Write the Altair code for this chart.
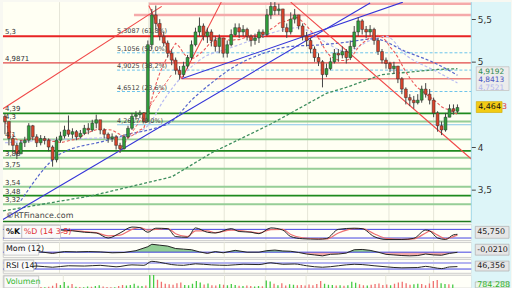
import altair as alt
import pandas as pd

# ---------------- data ----------------
CLOSE = [4.30, 4.10, 4.02, 3.92, 4.05, 4.08, 4.25, 4.12, 4.05, 4.10,
         4.08, 4.00, 3.85, 4.08, 4.13, 4.20, 4.15, 4.18, 4.12, 4.16,
         4.22, 4.20, 4.28, 4.32, 4.20, 4.15, 4.10, 4.12, 4.02, 3.98,
         4.12, 4.22, 4.36, 4.38, 4.40, 4.30, 5.20, 5.55, 5.45, 5.30,
         5.22, 5.10, 5.02, 4.90, 4.85, 4.95, 5.05, 5.20, 5.35, 5.42,
         5.30, 5.35, 5.25, 5.18, 5.28, 5.10, 5.20, 5.32, 5.40, 5.35,
         5.38, 5.30, 5.25, 5.28, 5.35, 5.32, 5.55, 5.65, 5.60, 5.62,
         5.40, 5.35, 5.50, 5.55, 5.42, 5.30, 5.25, 5.15, 5.05, 5.00,
         4.85, 4.92, 5.00, 5.10, 5.08, 5.12, 5.05, 5.18, 5.35, 5.48,
         5.38, 5.35, 5.38, 5.25, 5.12, 5.02, 4.98, 4.92, 4.95, 4.80,
         4.68, 4.58, 4.55, 4.52, 4.55, 4.68, 4.62, 4.55, 4.40, 4.25,
         4.20, 4.35, 4.45, 4.42, 4.464]
HIGH = [4.39, 4.22, 4.12, 4.05, 4.08, 4.12, 4.28, 4.26, 4.15, 4.14,
        4.13, 4.10, 4.02, 4.12, 4.18, 4.25, 4.37, 4.22, 4.20, 4.20,
        4.26, 4.28, 4.32, 4.38, 4.30, 4.22, 4.17, 4.16, 4.14, 4.05,
        4.15, 4.25, 4.40, 4.42, 4.43, 4.41, 5.25, 5.62, 5.66, 5.50,
        5.35, 5.25, 5.15, 5.05, 4.95, 5.00, 5.08, 5.25, 5.40, 5.52,
        5.45, 5.40, 5.38, 5.30, 5.32, 5.28, 5.25, 5.38, 5.45, 5.45,
        5.43, 5.40, 5.32, 5.33, 5.38, 5.38, 5.62, 5.70, 5.70, 5.68,
        5.62, 5.45, 5.58, 5.62, 5.55, 5.45, 5.35, 5.28, 5.18, 5.10,
        5.02, 4.98, 5.05, 5.15, 5.15, 5.18, 5.15, 5.25, 5.42, 5.52,
        5.50, 5.42, 5.43, 5.40, 5.28, 5.15, 5.05, 5.00, 5.00, 4.95,
        4.82, 4.70, 4.62, 4.60, 4.62, 4.72, 4.75, 4.68, 4.58, 4.42,
        4.30, 4.40, 4.50, 4.50, 4.50]
LOW = [4.15, 4.02, 3.95, 3.86, 3.92, 4.00, 4.05, 4.08, 4.00, 4.02,
       4.03, 3.95, 3.77, 3.82, 4.05, 4.10, 4.12, 4.10, 4.08, 4.10,
       4.14, 4.15, 4.18, 4.22, 4.15, 4.10, 4.05, 4.06, 3.97, 3.93,
       3.97, 4.10, 4.20, 4.32, 4.34, 4.28, 4.30, 5.15, 5.38, 5.25,
       5.18, 5.05, 4.96, 4.85, 4.79, 4.82, 4.92, 5.02, 5.18, 5.30,
       5.25, 5.22, 5.18, 5.12, 5.10, 5.05, 5.05, 5.18, 5.30, 5.28,
       5.30, 5.25, 5.18, 5.20, 5.22, 5.28, 5.30, 5.50, 5.55, 5.55,
       5.35, 5.28, 5.32, 5.45, 5.38, 5.25, 5.18, 5.10, 5.00, 4.95,
       4.70, 4.82, 4.90, 4.98, 5.00, 5.04, 4.98, 5.02, 5.15, 5.30,
       5.32, 5.28, 5.30, 5.20, 5.08, 4.98, 4.92, 4.88, 4.86, 4.75,
       4.62, 4.50, 4.48, 4.45, 4.50, 4.52, 4.58, 4.50, 4.35, 4.18,
       4.14, 4.18, 4.35, 4.38, 4.40]
FIRST_OPEN = 4.36
VOLUME = [620, 540, 480, 700, 520, 450, 760, 500, 420, 380,
          460, 610, 980, 720, 1150, 610, 880, 470, 420, 390,
          520, 480, 560, 690, 510, 430, 400, 380, 590, 720,
          650, 740, 920, 610, 560, 640, 3400, 2600, 1500, 1200,
          900, 820, 760, 980, 1100, 720, 680, 900, 1300, 1100,
          800, 950, 700, 640, 820, 760, 690, 880, 720, 610,
          580, 640, 590, 520, 560, 540, 1400, 1250, 900, 700,
          980, 640, 820, 760, 690, 720, 650, 800, 700, 880,
          1300, 900, 780, 720, 640, 700, 610, 690, 1200, 1050,
          820, 700, 650, 760, 880, 950, 720, 800, 680, 900,
          1100, 1200, 980, 760, 820, 900, 860, 700, 950, 1300,
          1450, 980, 860, 820, 784]

GREEN_MA_I = [-0.5, 22, 42, 52, 67, 81, 86, 95, 109, 114]
GREEN_MA_V = [3.25, 3.43, 3.65, 3.93, 4.27, 4.63, 4.70, 4.85, 4.91, 4.9192]
BLUE_MA_I = [4, 14, 25, 31, 37, 42, 47, 52, 58, 64, 72, 80, 86, 93, 101, 109, 114]
BLUE_MA_V = [3.37, 3.92, 4.07, 4.15, 4.21, 4.30, 4.55, 4.75, 4.95, 5.08, 5.18, 5.20, 5.23, 5.27, 5.12, 4.97, 4.8413]
LAV_MA_I = [0, 10, 20, 30, 36, 40, 45, 50, 56, 62, 68, 74, 80, 86, 92, 96, 101, 109, 114]
LAV_MA_V = [4.05, 4.08, 4.10, 4.12, 4.25, 4.55, 4.85, 5.05, 5.15, 5.25, 5.35, 5.40, 5.25, 5.12, 5.25, 5.30, 5.08, 4.88, 4.7521]

GREEN_LEVELS = [4.395, 4.30, 4.09, 3.955, 3.875, 3.745, 3.535, 3.43, 3.33]
GREEN_DARK = [True, False, False, True, False, False, False, True, False]
GREEN_LABELS = ["4,39", "4,3", "4,1", "", "3,88", "3,75", "3,54", "3,48", "3,32"]

RED_LEVEL_START = [36.25, 32.5, -0.5, -0.5, 44.5]
RED_LEVEL_P = [5.68, 5.55, 5.30, 4.9871, 4.80]
RED_LEVEL_COL = ["#F5AAAA", "#F5AAAA", "#E82424", "#E04848", "#E04848"]
RED_LEVEL_W = [2.5, 2.5, 2.0, 1.2, 1.0]
RED_LABELS = ["5,3", "4,9871"]
RED_LABEL_P = [5.30, 4.9871]

FIB_P = [5.3087, 5.1056, 4.9025, 4.6512, 4.2617]
FIB_T = ["5,3087 (61,8%)", "5,1056 (50,0%)", "4,9025 (38,2%)", "4,6512 (23,6%)", "4,2617 (0,0%)"]
FIB_START = 28.25

TREND_I1 = [-0.5, 44.5, -0.5, 72, 36.25, 44.5]
TREND_P1 = [3.15, 4.80, 4.45, 5.70, 5.66, 4.80]
TREND_I2 = [92, 100.25, 39.5, 117.5, 44.5, 54.5]
TREND_P2 = [5.69, 5.70, 5.65, 3.86, 4.80, 5.70]
TREND_COL = ["#3535D8", "#3535D8", "#F04848", "#F04848", "#F04848", "#F04848"]

GRID_I = [13.75, 36.25, 55.25, 65.75, 76.25, 96.75, 108]

K_I = [0, 3, 6, 9, 12, 14, 17, 20, 23, 26, 29, 32, 34, 36, 38, 41, 43, 46, 48, 51, 53, 57, 59, 62, 64,
       67, 70, 72, 75, 79, 81, 84, 88, 90, 93, 96, 100, 103, 106, 107, 109, 111, 113, 114]
K_V = [40, 25, 50, 30, 20, 75, 70, 60, 55, 20, 55, 96, 92, 60, 88, 85, 30, 25, 90, 60, 55, 85, 65, 60, 50,
       90, 75, 30, 15, 12, 16, 80, 88, 85, 30, 10, 10, 18, 75, 70, 20, 10, 42, 45.75]
D_V = [42, 30, 40, 38, 25, 55, 72, 65, 57, 35, 40, 80, 93, 75, 80, 86, 50, 30, 70, 70, 57, 75, 72, 62, 55,
       78, 80, 45, 22, 14, 14, 55, 85, 86, 50, 18, 10, 14, 55, 68, 40, 15, 30, 40]

MOM_I = [0, 3, 6, 9, 12, 15, 18, 21, 24, 27, 30, 33, 36, 37, 39, 41, 43, 45, 47, 49, 51, 53, 55, 58, 61,
         64, 66, 68, 70, 72, 74, 76, 78, 80, 82, 84, 86, 88, 90, 92, 94, 96, 98, 100, 102, 104, 106, 108,
         110, 112, 114]
MOM_V = [0.0, -0.1, 0.15, 0.05, -0.2, 0.1, 0.05, 0.1, 0.05, -0.1, -0.05, 0.25, 0.9, 1.3, 1.15, 1.0, 0.6,
         0.5, 0.4, 0.05, -0.2, 0.1, -0.1, 0.3, 0.0, 0.0, 0.25, 0.35, 0.2, 0.15, -0.05, -0.3, -0.45, -0.6,
         -0.35, -0.3, -0.15, 0.4, 0.45, 0.3, 0.0, -0.35, -0.45, -0.55, -0.6, -0.55, -0.3, -0.45, -0.5,
         -0.2, -0.021]

RSI_I = [0, 4, 8, 12, 16, 20, 24, 28, 32, 35, 37, 39, 42, 45, 48, 52, 56, 60, 64, 67, 70, 73, 76, 80, 84,
         88, 90, 93, 96, 100, 104, 106, 108, 110, 112, 114]
RSI_V = [48, 45, 50, 42, 52, 50, 55, 45, 58, 55, 82, 75, 60, 55, 65, 58, 55, 62, 60, 72, 62, 64, 52, 42, 52,
         62, 60, 52, 45, 38, 40, 48, 40, 33, 44, 46.356]

# ---------------- styling ----------------
FONT = "DejaVu Sans"
W = 472
H_MAIN, H_K, H_MOM, H_RSI, H_VOL = 222, 16, 15, 14, 13
XS = alt.Scale(domain=[-0.5, 117.5], nice=False, zero=False)
YS = alt.Scale(domain=[3.116, 5.70], nice=False, zero=False)
AX = alt.Axis(orient="right", values=[3.5, 4, 5, 5.5], format=".1~f",
              labelExpr="replace(datum.label, '.', ',')", tickSize=4, tickColor="#444",
              domain=False, grid=False, labelFontSize=9, labelColor="#333", labelPadding=2,
              labelFont=FONT, title=None, zindex=1)
IVORY = "#FFFFF3"
CYAN = "#DDF5F8"
GUP, RDN = "#2E9E3A", "#D9432B"


def xq(f):
    return alt.X(f"{f}:Q", scale=XS, axis=None)


def yp(f):
    return alt.Y(f"{f}:Q", scale=YS, axis=AX)


one = pd.DataFrame({"a": [0]})

n = len(CLOSE)
OPEN = [FIRST_OPEN] + CLOSE[:-1]
price = pd.DataFrame({"i": list(range(n)), "o": OPEN, "c": CLOSE, "h": HIGH, "l": LOW, "v": VOLUME})
grid = pd.DataFrame({"g": GRID_I})


def strip(h, extra):
    return alt.Chart(one).mark_rect(color=CYAN).encode(
        x=alt.value(W), x2=alt.value(512), y=alt.value(0), y2=alt.value(h + extra))


def gridlayer():
    return alt.Chart(grid).mark_rule(color="#E6E6D8", strokeWidth=1).encode(x=xq("g"))


# ---------------- main panel ----------------
glev = pd.DataFrame({"p": GREEN_LEVELS,
                     "col": ["#1E8A1E" if d else "#96CE96" for d in GREEN_DARK],
                     "w": [1.6 if d else 2.0 for d in GREEN_DARK],
                     "t": GREEN_LABELS})
green_rules = alt.Chart(glev).mark_rule().encode(
    y=yp("p"), color=alt.Color("col:N", scale=None), strokeWidth=alt.StrokeWidth("w:Q", scale=None))

rlev = pd.DataFrame({"i1": RED_LEVEL_START, "i2": [117.5] * len(RED_LEVEL_P), "p": RED_LEVEL_P,
                     "col": RED_LEVEL_COL, "w": RED_LEVEL_W})
red_rules = alt.Chart(rlev).mark_rule().encode(
    x=xq("i1"), x2="i2:Q", y=yp("p"), color=alt.Color("col:N", scale=None),
    strokeWidth=alt.StrokeWidth("w:Q", scale=None))

fib = pd.DataFrame({"i1": [FIB_START] * len(FIB_P), "i2": [117.5] * len(FIB_P), "p": FIB_P, "t": FIB_T})
fib_dash = alt.Chart(fib).transform_filter("datum.p < 5.2 && datum.p > 4.5").mark_rule(
    color="#6CC4EA", strokeWidth=1, strokeDash=[3, 2]).encode(x=xq("i1"), x2="i2:Q", y=yp("p"))
fib_zero = alt.Chart(fib).transform_filter("datum.p < 4.3").mark_rule(
    color="#86C6EA", strokeWidth=1.2).encode(x=xq("i1"), x2="i2:Q", y=yp("p"))
fib_text = alt.Chart(fib).mark_text(align="left", baseline="bottom", dy=-1, fontSize=6.5,
                                    color="#444", font=FONT).encode(x=xq("i1"), y=yp("p"), text="t:N")

ma_green = alt.Chart(pd.DataFrame({"i": GREEN_MA_I, "v": GREEN_MA_V})).mark_line(
    color="#3E8E5E", strokeWidth=1.3, strokeDash=[3, 2]).encode(x=xq("i"), y=yp("v"))
ma_blue = alt.Chart(pd.DataFrame({"i": BLUE_MA_I, "v": BLUE_MA_V})).mark_line(
    color="#5565CC", strokeWidth=1.2, strokeDash=[3, 2], interpolate="monotone").encode(x=xq("i"), y=yp("v"))
ma_lav = alt.Chart(pd.DataFrame({"i": LAV_MA_I, "v": LAV_MA_V})).mark_line(
    color="#B9BCF2", strokeWidth=1.2, strokeDash=[3, 2], interpolate="monotone").encode(x=xq("i"), y=yp("v"))
ma_red = alt.Chart(price).transform_window(
    ma="mean(c)", frame=[-7, 0], sort=[alt.SortField("i")]).mark_line(
    color="#EC5A5A", strokeWidth=1.1, strokeDash=[3, 2]).encode(x=xq("i"), y=yp("ma"))

trend = pd.DataFrame({"i1": TREND_I1, "p1": TREND_P1, "i2": TREND_I2, "p2": TREND_P2, "col": TREND_COL})
trend_rules = alt.Chart(trend).mark_rule(strokeWidth=1.1, clip=True).encode(
    x=xq("i1"), x2="i2:Q", y=yp("p1"), y2="p2:Q", color=alt.Color("col:N", scale=None))
fan = alt.Chart(pd.DataFrame({"i1": [28.75], "p1": [3.95], "i2": [42.0], "p2": [4.85]})).mark_rule(
    color="#F06060", strokeWidth=1, strokeDash=[3, 2]).encode(x=xq("i1"), x2="i2:Q", y=yp("p1"), y2="p2:Q")

updown = alt.condition("datum.c >= datum.o", alt.value(GUP), alt.value(RDN))
wicks = alt.Chart(price).mark_rule(color="#444", strokeWidth=1).encode(x=xq("i"), y=yp("l"), y2="h:Q")
bodies = alt.Chart(price).transform_calculate(x1="datum.i - 0.36", x2="datum.i + 0.36").mark_rect(
    stroke="#2A2A2A", strokeWidth=0.5).encode(x=xq("x1"), x2="x2:Q", y=yp("o"), y2="c:Q", color=updown)

left_lab = pd.DataFrame({"p": RED_LABEL_P + GREEN_LEVELS, "t": RED_LABELS + GREEN_LABELS})
left_text = alt.Chart(left_lab).mark_text(align="left", baseline="bottom", dy=-1, fontSize=7,
                                          color="#333", font=FONT).encode(
    x=alt.value(2), y=yp("p"), text="t:N")

bottom_rule = alt.Chart(one).mark_rule(color="#1E7A1E", strokeWidth=1.5).encode(
    x=alt.value(0), x2=alt.value(W), y=alt.value(H_MAIN - 1))
edge_rule = alt.Chart(one).mark_rule(color="#9ED6E8", strokeWidth=1).encode(
    x=alt.value(W), y=alt.value(0), y2=alt.value(H_MAIN))
watermark = alt.Chart(one).mark_text(align="left", baseline="bottom", fontSize=8, color="#444",
                                     font=FONT, text="©RTFinance.com").encode(
    x=alt.value(3), y=alt.value(H_MAIN - 2))

ma_box = alt.Chart(pd.DataFrame({"p1": [4.942], "p2": [4.663]})).mark_rect(
    fill="#ECECEC", stroke="#C4C4C4", strokeWidth=0.8).encode(
    x=alt.value(477), x2=alt.value(510), y=yp("p1"), y2="p2:Q")
ma_vals = pd.DataFrame({"p": [4.884, 4.791, 4.698], "t": ["4,9192", "4,8413", "4,7521"],
                        "col": ["#2E8A4E", "#4A55C0", "#B4B8EE"]})
ma_text = alt.Chart(ma_vals).mark_text(align="left", baseline="middle", fontSize=7.5, font=FONT).encode(
    x=alt.value(479), y=yp("p"), text="t:N", color=alt.Color("col:N", scale=None))
last_box = alt.Chart(pd.DataFrame({"p1": [4.533], "p2": [4.405]})).mark_rect(
    fill="#F2CB14", stroke="#D0A800", strokeWidth=0.6).encode(
    x=alt.value(477), x2=alt.value(503), y=yp("p1"), y2="p2:Q")
last_text = alt.Chart(pd.DataFrame({"p": [4.466], "t": ["4,464"]})).mark_text(
    align="left", baseline="middle", fontSize=8, color="#111", font=FONT).encode(
    x=alt.value(479), y=yp("p"), text="t:N")
last_red = alt.Chart(pd.DataFrame({"p": [4.466], "t": ["3"]})).mark_text(
    align="left", baseline="middle", fontSize=8, color="#E03030", font=FONT).encode(
    x=alt.value(503), y=yp("p"), text="t:N")

main = alt.layer(
    strip(H_MAIN, 2), gridlayer(), green_rules, fib_zero, fib_dash, red_rules,
    ma_green, ma_lav, ma_blue, ma_red, trend_rules, fan,
    wicks, bodies, left_text, fib_text, watermark, bottom_rule, edge_rule,
    ma_box, ma_text, last_box, last_text, last_red
).properties(width=W, height=H_MAIN, view=alt.ViewBackground(fill=IVORY, stroke=None))


# ---------------- lower panels ----------------
def label_box(x1, x2, h, text, color, bold=False):
    box = alt.Chart(one).mark_rect(fill="#FAFAFA", stroke="#B8B8B8", strokeWidth=0.7).encode(
        x=alt.value(x1), x2=alt.value(x2), y=alt.value(1), y2=alt.value(h - 2))
    txt = alt.Chart(one).mark_text(align="left", baseline="middle", fontSize=8, color=color, font=FONT,
                                   fontWeight="bold" if bold else "normal", text=text).encode(
        x=alt.value(x1 + 2), y=alt.value((h - 1) / 2))
    return [box, txt]


def value_box(h, text, color="#222", fill="#E6E6E6", y1=2, y2=None):
    y2 = h - 2 if y2 is None else y2
    box = alt.Chart(one).mark_rect(fill=fill, stroke="#B0B0B0", strokeWidth=0.7).encode(
        x=alt.value(476), x2=alt.value(510), y=alt.value(y1), y2=alt.value(y2))
    txt = alt.Chart(one).mark_text(align="left", baseline="middle", fontSize=8, color=color, font=FONT,
                                   text=text).encode(x=alt.value(478), y=alt.value((y1 + y2) / 2))
    return [box, txt]


PANEL_VIEW = alt.ViewBackground(fill="#FFFFF8", stroke="#C4C4C4", strokeWidth=0.8)

# Stochastic
KS = alt.Scale(domain=[4.5, 114.5], nice=False, zero=False)
kdf = pd.DataFrame({"i": K_I, "k": K_V, "d": D_V})
k_levels = alt.Chart(pd.DataFrame({"y": [80, 20]})).mark_rule(color="#4444E0", strokeWidth=1).encode(
    y=alt.Y("y:Q", scale=KS, axis=None))
k_d = alt.Chart(kdf).mark_line(color="#EE7070", strokeWidth=1.2, interpolate="monotone").encode(
    x=xq("i"), y=alt.Y("d:Q", scale=KS, axis=None))
k_k = alt.Chart(kdf).mark_line(color="#222", strokeWidth=1, interpolate="monotone").encode(
    x=xq("i"), y=alt.Y("k:Q", scale=KS, axis=None))
stoch = alt.layer(
    strip(H_K, 2), gridlayer(), k_levels, k_d, k_k,
    *label_box(1, 19, H_K, "%K", "#111", True), *label_box(19, 58, H_K, "%D (14 3 5)", "#E03030"),
    *value_box(H_K, "45,750")
).properties(width=W, height=H_K, view=PANEL_VIEW)

# Momentum
MS = alt.Scale(domain=[-0.81, 1.63], nice=False, zero=False)
mdf = pd.DataFrame({"i": MOM_I, "m": MOM_V})
m_pos = alt.Chart(mdf).transform_calculate(pos="max(datum.m, 0)").mark_area(
    color="#86C98A", opacity=0.9).encode(x=xq("i"), y=alt.Y("pos:Q", scale=MS, axis=None), y2=alt.Y2(datum=0))
m_neg = alt.Chart(mdf).transform_calculate(neg="min(datum.m, 0)").mark_area(
    color="#F2A0A0", opacity=0.9).encode(x=xq("i"), y=alt.Y("neg:Q", scale=MS, axis=None), y2=alt.Y2(datum=0))
m_zero = alt.Chart(pd.DataFrame({"y": [0]})).mark_rule(color="#4444E0", strokeWidth=1).encode(
    y=alt.Y("y:Q", scale=MS, axis=None))
m_line = alt.Chart(mdf).mark_line(color="#222", strokeWidth=1).encode(
    x=xq("i"), y=alt.Y("m:Q", scale=MS, axis=None))
mom = alt.layer(
    strip(H_MOM, 2), gridlayer(), m_pos, m_neg, m_zero, m_line,
    *label_box(1, 36, H_MOM, "Mom (12)", "#111"), *value_box(H_MOM, "-0,0210")
).properties(width=W, height=H_MOM, view=PANEL_VIEW)

# RSI
RS = alt.Scale(domain=[3.3, 96.7], nice=False, zero=False)
rdf = pd.DataFrame({"i": RSI_I, "r": RSI_V})
r_hi = alt.Chart(pd.DataFrame({"y": [70]})).mark_rule(color="#B4B4F0", strokeWidth=2).encode(
    y=alt.Y("y:Q", scale=RS, axis=None))
r_lo = alt.Chart(pd.DataFrame({"y": [30]})).mark_rule(color="#4444E0", strokeWidth=1).encode(
    y=alt.Y("y:Q", scale=RS, axis=None))
r_line = alt.Chart(rdf).mark_line(color="#222", strokeWidth=1, interpolate="monotone").encode(
    x=xq("i"), y=alt.Y("r:Q", scale=RS, axis=None))
rsi = alt.layer(
    strip(H_RSI, 2), gridlayer(), r_hi, r_lo, r_line,
    *label_box(1, 31, H_RSI, "RSI (14)", "#111"), *value_box(H_RSI, "46,356")
).properties(width=W, height=H_RSI, view=PANEL_VIEW)

# Volume
VS = alt.Scale(domain=[300, 2200], nice=False, zero=False)
v_bars = alt.Chart(price).mark_bar(size=1.3, clip=True).encode(
    x=xq("i"), y=alt.Y("v:Q", scale=VS, axis=None), y2=alt.value(H_VOL),
    color=alt.condition("datum.c >= datum.o", alt.value("#44CC44"), alt.value("#F07070")))
vol = alt.layer(
    strip(H_VOL, 0), gridlayer(), v_bars,
    *label_box(1, 36, H_VOL + 2, "Volumen", "#33B833"),
    *value_box(H_VOL, "784.288", color="#2DB02D", fill="#E8F8E8", y1=7, y2=H_VOL)
).properties(width=W, height=H_VOL, view=PANEL_VIEW)

chart = alt.vconcat(main, stoch, mom, rsi, vol, spacing=2, bounds="flush").properties(
    padding=0, background="#F8F8F2"
).configure_view(strokeWidth=0.8)

chart.save("out.html", embed_options={"renderer": "svg", "actions": False})
